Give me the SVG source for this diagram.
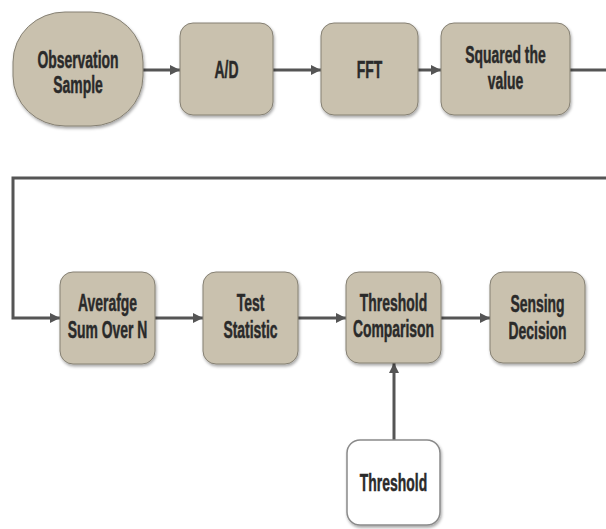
<svg xmlns="http://www.w3.org/2000/svg" width="606" height="529" viewBox="0 0 606 529">
  <defs>
    <filter id="shadow" x="-20%" y="-20%" width="140%" height="140%">
      <feDropShadow dx="1" dy="2" stdDeviation="1.6" flood-color="#000" flood-opacity="0.35"/>
    </filter>
    <marker id="arrow" viewBox="0 0 10 10" refX="10" refY="5" markerWidth="10" markerHeight="11" markerUnits="userSpaceOnUse" orient="auto">
      <path d="M0,0 L10,5 L0,10 z" fill="#555"/>
    </marker>
  </defs>
  <style>
    .box { fill: #c9c1ae; stroke: #858073; stroke-width: 1; filter: url(#shadow); }
    .plain { fill: #ffffff; stroke: #8a8a8a; stroke-width: 1.5; filter: url(#shadow); }
    .label { font-family: "Liberation Sans", Arial, sans-serif; font-weight: bold; font-size: 24px; fill: #2a2a2a; stroke: #2a2a2a; stroke-width: 0.5; text-anchor: middle; }
    .wire { fill: none; stroke: #555; stroke-width: 3; }
  </style>

  <!-- connectors -->
  <g id="connectors">
    <line class="wire" x1="143" y1="70" x2="180" y2="70" marker-end="url(#arrow)"/>
    <line class="wire" x1="273" y1="70" x2="321" y2="70" marker-end="url(#arrow)"/>
    <line class="wire" x1="418" y1="70" x2="441" y2="70" marker-end="url(#arrow)"/>
    <line class="wire" x1="570" y1="70" x2="606" y2="70"/>
    <polyline class="wire" points="606,178 13,178 13,318 60,318" marker-end="url(#arrow)"/>
    <line class="wire" x1="155" y1="318" x2="203" y2="318" marker-end="url(#arrow)"/>
    <line class="wire" x1="298" y1="318" x2="346" y2="318" marker-end="url(#arrow)"/>
    <line class="wire" x1="441" y1="318" x2="490" y2="318" marker-end="url(#arrow)"/>
    <line class="wire" x1="394" y1="440" x2="394" y2="363" marker-end="url(#arrow)"/>
  </g>

  <g id="observation">
    <rect class="box" x="13" y="12" width="130" height="114" rx="52" ry="50"/>
    <g transform="translate(78,0) scale(0.58,1)">
      <text class="label" x="0" y="68">Observation</text>
      <text class="label" x="0" y="93">Sample</text>
    </g>
  </g>

  <g id="ad">
    <rect class="box" x="180" y="23" width="93" height="92" rx="13"/>
    <g transform="translate(226.5,0) scale(0.58,1)">
      <text class="label" x="0" y="78">A/D</text>
    </g>
  </g>

  <g id="fft">
    <rect class="box" x="321" y="23" width="97" height="92" rx="13"/>
    <g transform="translate(369.5,0) scale(0.58,1)">
      <text class="label" x="0" y="78">FFT</text>
    </g>
  </g>

  <g id="squared">
    <rect class="box" x="441" y="23" width="129" height="92" rx="13"/>
    <g transform="translate(505.5,0) scale(0.58,1)">
      <text class="label" x="0" y="63">Squared the</text>
      <text class="label" x="0" y="89">value</text>
    </g>
  </g>

  <g id="average">
    <rect class="box" x="60" y="272" width="95" height="92" rx="13"/>
    <g transform="translate(107.5,0) scale(0.58,1)">
      <text class="label" x="0" y="311">Averafge</text>
      <text class="label" x="0" y="338">Sum Over N</text>
    </g>
  </g>

  <g id="test-statistic">
    <rect class="box" x="203" y="272" width="95" height="92" rx="13"/>
    <g transform="translate(250.5,0) scale(0.58,1)">
      <text class="label" x="0" y="311">Test</text>
      <text class="label" x="0" y="338">Statistic</text>
    </g>
  </g>

  <g id="threshold-comparison">
    <rect class="box" x="346" y="272" width="95" height="91" rx="13"/>
    <g transform="translate(393.5,0) scale(0.58,1)">
      <text class="label" x="0" y="311">Threshold</text>
      <text class="label" x="0" y="337">Comparison</text>
    </g>
  </g>

  <g id="sensing-decision">
    <rect class="box" x="490" y="272" width="95" height="91" rx="13"/>
    <g transform="translate(537.5,0) scale(0.58,1)">
      <text class="label" x="0" y="312">Sensing</text>
      <text class="label" x="0" y="339">Decision</text>
    </g>
  </g>

  <g id="threshold">
    <rect class="plain" x="347" y="440" width="93" height="85" rx="13"/>
    <g transform="translate(393.5,0) scale(0.58,1)">
      <text class="label" x="0" y="491">Threshold</text>
    </g>
  </g>
</svg>
